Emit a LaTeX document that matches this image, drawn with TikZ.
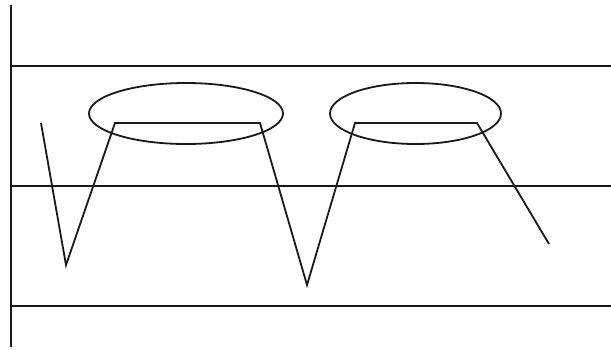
\documentclass[tikz,border=0pt]{standalone}
\begin{document}
\begin{tikzpicture}[x=1pt,y=-1pt,line width=1.8pt,
  stroke/.style={draw=black!90,line join=miter}]
\useasboundingbox (0,0) rectangle (611,349);
% axis and level lines
\draw[stroke] (11,5) -- (11,347);
\draw[stroke] (11,66) -- (611,66);
\draw[stroke] (11,186) -- (611,186);
\draw[stroke] (11,306) -- (611,306);
% waveform
\draw[stroke] (41,123) -- (66,265) -- (115,123) -- (260,123) -- (307,285) -- (355,123) -- (477,123) -- (549,244);
% ellipses
\draw[stroke] (186,113.5) ellipse [x radius=97, y radius=30.5];
\draw[stroke] (415.5,113.5) ellipse [x radius=85.5, y radius=30.5];
\end{tikzpicture}
\end{document}
